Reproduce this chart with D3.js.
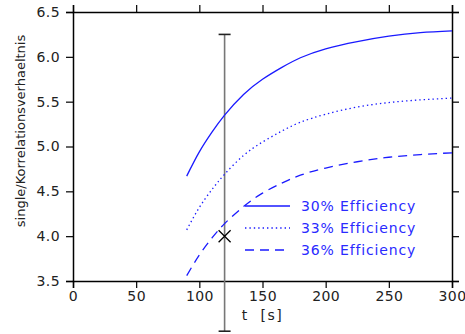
<!DOCTYPE html>
<html><head><meta charset="utf-8">
<script src="https://cdn.jsdelivr.net/npm/d3@7"></script>
<style>body{margin:0;background:#fff}svg{display:block}text{font-family:"DejaVu Sans",sans-serif}</style>
</head><body>
<script>
const times = [90, 100, 110, 120, 135, 150, 165, 180, 200, 225, 250, 275, 300];
const eff30 = [4.67, 4.94, 5.16, 5.35, 5.58, 5.75, 5.88, 5.99, 6.09, 6.17, 6.23, 6.27, 6.29];
const eff33 = [4.07, 4.32, 4.52, 4.69, 4.90, 5.05, 5.17, 5.27, 5.36, 5.44, 5.49, 5.52, 5.54];
const eff36 = [3.56, 3.79, 3.98, 4.14, 4.33, 4.48, 4.59, 4.68, 4.76, 4.83, 4.88, 4.91, 4.93];
const seriesNames = ["30% Efficiency", "33% Efficiency", "36% Efficiency"];
const xTicks = [0, 50, 100, 150, 200, 250, 300];
const yTicks = [3.5, 4.0, 4.5, 5.0, 5.5, 6.0, 6.5];
const markerPoint = {t: 120, v: 4.0};
const errorBar = {t: 120, low: 2.94, high: 6.25};

const W = 465, H = 334;
const m = {left: 73, right: 13, top: 12, bottom: 53};
const svg = d3.select("body").append("svg").attr("width", W).attr("height", H);
const x = d3.scaleLinear().domain([0, 300]).range([m.left, W - m.right]);
const y = d3.scaleLinear().domain([3.5, 6.5]).range([H - m.bottom, m.top]);
const tickLen = 7;

const axB = svg.append("g").attr("transform", `translate(0,${y(3.5)})`)
  .call(d3.axisBottom(x).tickValues(xTicks).tickSize(tickLen).tickPadding(3).tickFormat(d3.format("d")));
const axT = svg.append("g").attr("transform", `translate(0,${y(6.5)})`)
  .call(d3.axisTop(x).tickValues(xTicks).tickSize(tickLen).tickFormat(""));
const axL = svg.append("g").attr("transform", `translate(${x(0)},0)`)
  .call(d3.axisLeft(y).tickValues(yTicks).tickSize(tickLen).tickPadding(6).tickFormat(d3.format(".1f")));
const axR = svg.append("g").attr("transform", `translate(${x(300)},0)`)
  .call(d3.axisRight(y).tickValues(yTicks).tickSize(tickLen).tickFormat(""));
[axB, axT, axL, axR].forEach(a => {
  a.select(".domain").attr("stroke", "#000").attr("stroke-width", 1.5);
  a.selectAll(".tick line").attr("stroke", "#000").attr("stroke-width", 1.2);
  a.selectAll(".tick text").attr("fill", "#222").style("font-size", "14px").style("letter-spacing", "0.4px");
});

const eb = svg.append("g");
eb.append("line").attr("x1", x(errorBar.t)).attr("x2", x(errorBar.t))
  .attr("y1", y(errorBar.high)).attr("y2", y(errorBar.low)).attr("stroke", "#777").attr("stroke-width", 1.6);
[errorBar.high, errorBar.low].forEach(v => {
  eb.append("line").attr("x1", x(errorBar.t) - 6).attr("x2", x(errorBar.t) + 6)
    .attr("y1", y(v)).attr("y2", y(v)).attr("stroke", "#222").attr("stroke-width", 1.6);
});

const styles = ["none", "1.4,3", "9,6"];
const data = [eff30, eff33, eff36];
const line = d3.line().x((d, i) => x(times[i])).y(d => y(d)).curve(d3.curveNatural);
data.forEach((s, k) => {
  svg.append("path").datum(s).attr("d", line).attr("fill", "none")
    .attr("stroke", "#1a1aff").attr("stroke-width", 1.3).attr("stroke-dasharray", styles[k]);
});

const mx = x(markerPoint.t), my = y(markerPoint.v), r = 6;
svg.append("path").attr("d", `M${mx - r},${my - r}L${mx + r},${my + r}M${mx - r},${my + r}L${mx + r},${my - r}`)
  .attr("stroke", "#000").attr("stroke-width", 1.3);

const lg = svg.append("g");
seriesNames.forEach((n, k) => {
  const ly = 206 + k * 22;
  lg.append("line").attr("x1", 245).attr("x2", 290).attr("y1", ly).attr("y2", ly)
    .attr("stroke", "#1a1aff").attr("stroke-width", 1.3).attr("stroke-dasharray", styles[k]);
  lg.append("text").attr("x", 301).attr("y", ly + 5).attr("fill", "#2a2aff")
    .style("font-size", "14px").style("letter-spacing", "0.85px").text(n);
});

svg.append("text").attr("x", x(150)).attr("y", 320).attr("text-anchor", "middle")
  .attr("fill", "#222").style("font-size", "14px").style("white-space", "pre")
  .style("letter-spacing", "1.5px").text("t  [s]");
svg.append("text").attr("transform", `translate(25,${131}) rotate(-90)`).attr("text-anchor", "middle")
  .attr("fill", "#222").style("font-size", "13px").text("single/Korrelationsverhaeltnis");
</script>
</body></html>
